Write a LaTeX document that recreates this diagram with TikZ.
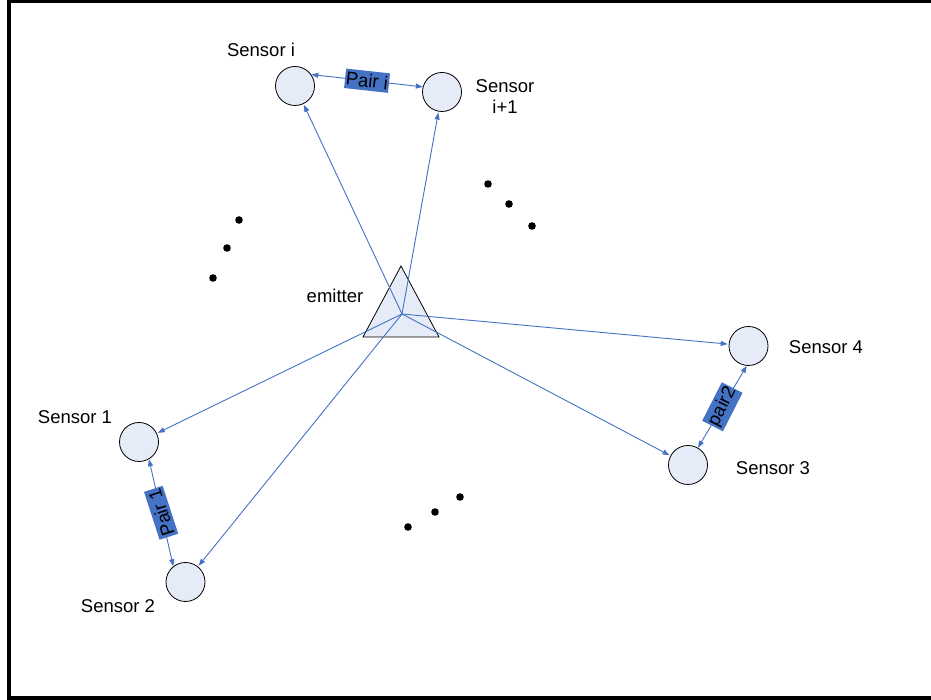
\documentclass[tikz,border=0pt]{standalone}
\usepackage{fontspec}
\setmainfont{Liberation Sans}
\usetikzlibrary{arrows.meta}
\definecolor{lineblue}{RGB}{68,114,196}
\definecolor{pairblue}{RGB}{68,114,196}
\definecolor{sensfill}{RGB}{230,236,247}
\tikzset{
  sensor/.style={circle,draw=black,fill=sensfill,line width=0.8pt,minimum size=39pt,inner sep=0pt},
  lbl/.style={font=\fontsize{18.5}{20}\selectfont,inner sep=0pt},
  ray/.style={draw=lineblue,line width=0.9pt,-{Triangle[length=7pt,width=5pt]},shorten >=1pt},
  pairline/.style={draw=lineblue,line width=0.9pt,{Triangle[length=7pt,width=5pt]}-{Triangle[length=7pt,width=5pt]}},
  pairbox/.style={fill=pairblue,font=\fontsize{18.5}{19}\selectfont,inner xsep=1pt,inner ysep=3pt,text=black},
  dot/.style={fill=black,draw=none}
}
\begin{document}
\begin{tikzpicture}[x=1pt,y=1pt]
\useasboundingbox (0,0) rectangle (931,700);
\clip (0,0) rectangle (931,700);
\fill[white] (0,0) rectangle (931,700);
% frame
\draw[line width=4pt] (940,698.5) -- (9,698.5) -- (9,2) -- (940,2);
% emitter triangle
\draw[fill=sensfill,line width=0.8pt] (401,434) -- (363,363) -- (439,363) -- cycle;
\coordinate (E) at (402,386);
\node[lbl] (emlbl) at (335,404) {emitter};
% sensors
\node[sensor] (si) at (295,614) {};
\node[sensor] (si1) at (442,608) {};
\node[sensor] (s1) at (139,258) {};
\node[sensor] (s2) at (185.5,118) {};
\node[sensor] (s4) at (748.5,354) {};
\node[sensor] (s3) at (688,235) {};
% labels
\node[lbl] (lsi) at (261,650) {Sensor i};
\node[lbl,align=center] (lsi1) at (505,603) {Sensor\\[1pt]i+1};
\node[lbl] (ls1) at (75,283) {Sensor 1};
\node[lbl] (ls2) at (118,94) {Sensor 2};
\node[lbl] (ls4) at (826,353) {Sensor 4};
\node[lbl] (ls3) at (773,232) {Sensor 3};
% rays
\draw[ray] (E) -- (si);
\draw[ray] (E) -- (si1);
\draw[ray] (E) -- (s1);
\draw[ray] (E) -- (s2);
\draw[ray] (E) -- (s4);
\draw[ray] (E) -- (s3);
% pairs
\draw[pairline] (si.35) -- (si1.165) node[pos=0.5,pairbox,sloped] (pi) {Pair i};
\draw[pairline] (s1.-60) -- (s2.128) node[pos=0.5,pairbox,rotate=108] (p1) {Pair 1};
\draw[pairline] (s3.60) -- (s4.-95) node[pos=0.5,pairbox,rotate=63] (p2) {pair2};
% dots
\foreach \p in {(239,480),(227,452),(213,422),(488,516),(509,496),(532,474),(408,173),(435,188),(460,203)}
  \fill[dot] \p circle (3.8);
\end{tikzpicture}
\end{document}
